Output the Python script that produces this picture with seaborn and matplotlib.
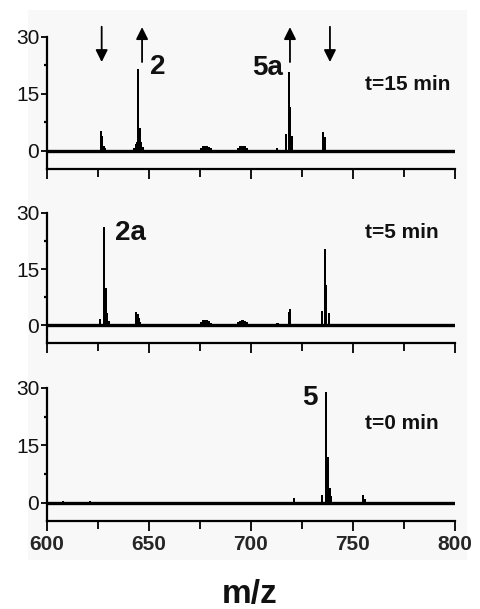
import numpy as np
import pandas as pd
import matplotlib
matplotlib.use("Agg")
import matplotlib.pyplot as plt
from matplotlib.patches import Rectangle
import seaborn as sns

# ---- data ----
mz_15 = [626.5, 627.2, 627.8, 628.3, 642.8, 643.5, 644.2, 644.8, 645.6, 646.3, 647.0,
         675.5, 676.5, 677.5, 678.5, 679.5, 680.5, 693.8, 694.6, 695.4, 696.2, 697.0, 697.8,
         712.6, 717.2, 718.5, 719.2, 720.3, 735.3, 736.2]
int_15 = [5.0, 3.7, 1.0, 0.5, 0.6, 1.5, 2.0, 21.3, 5.8, 2.0, 0.8,
          0.6, 0.9, 1.0, 1.0, 0.8, 0.4, 0.5, 0.9, 1.0, 1.0, 0.9, 0.5,
          0.5, 4.2, 20.5, 11.3, 3.7, 4.8, 3.4]

mz_5 = [626.0, 627.8, 628.7, 629.6, 630.5, 643.8, 644.4, 645.1, 645.8,
        675.5, 676.5, 677.5, 678.5, 679.5, 680.5, 693.8, 694.6, 695.4, 696.2, 697.0, 697.8,
        712.6, 713.3, 718.5, 719.3, 734.8, 736.1, 736.9, 738.1]
int_5 = [1.4, 26.0, 9.7, 2.9, 0.8, 3.2, 2.6, 1.6, 0.6,
         0.6, 1.0, 1.0, 1.0, 0.8, 0.4, 0.5, 0.9, 1.0, 1.0, 0.9, 0.5,
         0.4, 0.3, 3.2, 4.0, 3.5, 20.0, 10.5, 2.9]

mz_0 = [608.0, 621.0, 721.1, 734.8, 736.8, 737.6, 738.6, 739.3, 755.0, 756.0]
int_0 = [0.3, 0.2, 1.0, 1.8, 28.6, 11.8, 3.6, 1.5, 1.8, 0.8]

time_labels = ["t=15 min", "t=5 min", "t=0 min"]
time_label_y = [17.4, 24.7, 20.8]
peak_labels = [[("2", 650.5, 22.1), ("5a", 700.5, 21.8)],
               [("2a", 633.3, 24.7)],
               [("5", 725.0, 27.4)]]
down_arrows = [626.8, 738.7]
up_arrows = [646.6, 719.1]

x_ticks = [600, 650, 700, 750, 800]
x_minor = [625, 675, 725, 775]
y_ticks = [0, 15, 30]
y_minor = [7.5, 22.5]

# ---- style ----
sns.set_theme(style="ticks")
plt.rcParams['font.family'] = ['Liberation Sans', 'DejaVu Sans']

W, H = 481, 609
fig = plt.figure(figsize=(W / 100, H / 100), dpi=100)
fig.patch.set_facecolor("white")
fig.patches.append(Rectangle((28 / W, 1 - 560 / H), (467 - 28) / W, (560 - 10) / H,
                             transform=fig.transFigure, facecolor="#f8f8f8",
                             edgecolor="none", zorder=-10))

# axes rectangles in pixels: (top_px, bottom_px)
rects = [(37, 169), (213, 343), (388, 521)]
left_px, right_px = 47, 455
ylo = -4.8

datasets = [(mz_15, int_15), (mz_5, int_5), (mz_0, int_0)]

def stick_frame(mz, inten):
    xs, ys = [], []
    for m, v in zip(mz, inten):
        xs += [m, m, m]
        ys += [0.0, v, 0.0]
    return pd.DataFrame({"mz": xs, "intensity": ys})

axes = []
for i, ((top, bot), (mz, inten)) in enumerate(zip(rects, datasets)):
    ax = fig.add_axes([left_px / W, 1 - bot / H, (right_px - left_px) / W, (bot - top) / H])
    ax.set_facecolor("none")
    df = stick_frame(mz, inten)
    sns.lineplot(data=df, x="mz", y="intensity", sort=False, estimator=None,
                 color="black", lw=1.4, ax=ax)
    ax.axhline(0, color="black", lw=2.4, zorder=3)
    ax.set_xlim(600, 800)
    ax.set_ylim(ylo, 30)
    ax.set_xlabel("")
    ax.set_ylabel("")
    for s in ["top", "right"]:
        ax.spines[s].set_visible(False)
    for s in ["left", "bottom"]:
        ax.spines[s].set_linewidth(1.6)
        ax.spines[s].set_color("black")
    ax.set_xticks(x_ticks)
    ax.set_xticks(x_minor, minor=True)
    ax.set_yticks(y_ticks)
    ax.set_yticks(y_minor, minor=True)
    ax.tick_params(axis="x", which="major", direction="out", length=7, width=1.3,
                   color="black", pad=3, labelsize=15)
    ax.tick_params(axis="x", which="minor", direction="out", length=5.5, width=1.3, color="black")
    ax.tick_params(axis="y", which="major", direction="out", length=4.5, width=1.3,
                   color="black", pad=1, labelsize=15)
    ax.tick_params(axis="y", which="minor", direction="out", length=2.0, width=1.6, color="black")
    if i < 2:
        ax.set_xticklabels([])
    else:
        for lab in ax.get_xticklabels():
            lab.set_fontweight("bold")
    for lab in ax.get_yticklabels():
        lab.set_color("#111111")
    ax.text(756, time_label_y[i], time_labels[i], fontsize=15, fontweight="bold",
            ha="left", va="center", color="#111111")
    for txt, x, y in peak_labels[i]:
        ax.text(x, y, txt, fontsize=20, fontweight="bold", ha="left", va="center",
                color="#111111")
    ax.grid(False)
    axes.append(ax)

ax0 = axes[0]
for x in down_arrows:
    ax0.annotate("", xy=(x, 23.4), xytext=(x, 32.7), xycoords="data",
                 arrowprops=dict(arrowstyle="-|>", color="black", lw=1.3,
                                 mutation_scale=18, shrinkA=0, shrinkB=0),
                 annotation_clip=False)
for x in up_arrows:
    ax0.annotate("", xy=(x, 32.6), xytext=(x, 23.4), xycoords="data",
                 arrowprops=dict(arrowstyle="-|>", color="black", lw=1.3,
                                 mutation_scale=18, shrinkA=0, shrinkB=0),
                 annotation_clip=False)

fig.text(249.5 / W, 1 - 595 / H, "m/z", fontsize=24, fontweight="bold",
         ha="center", va="center", color="#111111")

fig.savefig("out.png", dpi=100, facecolor="white")
